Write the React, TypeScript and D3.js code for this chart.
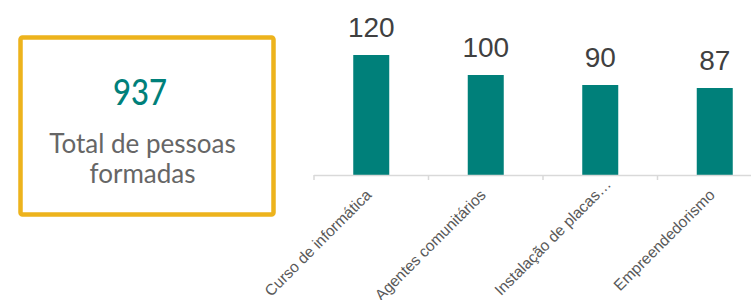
import React from "react";
import * as d3 from "d3";

const categories = ["Curso de informática", "Agentes comunitários", "Instalação de placas…", "Empreendedorismo"];
const values = [120, 100, 90, 87];
const totalValue = "937";
const totalLabelLines = ["Total de pessoas", "formadas"];

const W = 751;
const H = 300;

export default function App() {
  const x = d3.scaleBand<string>().domain(categories).range([314, 772]).paddingInner(0).paddingOuter(0);
  const y = d3.scaleLinear().domain([0, 120]).range([175, 55]);
  const barW = 36;
  const teal = "#00807A";
  return (
    <svg width={W} height={H} style={{ position: "absolute", left: 0, top: 0 }}>
      <rect x={20.5} y={37.5} width={253} height={177} rx={2} fill="#fff" stroke="#EDB31C" strokeWidth={4.5} />
      <text x={140} y={105} textAnchor="middle" fontFamily="Lato, 'Noto Sans', sans-serif" fontSize={36} fontWeight={500} fill={teal} textLength={54} lengthAdjust="spacingAndGlyphs">{totalValue}</text>
      {totalLabelLines.map((t, i) => (
        <text key={i} x={142.5} y={153 + i * 30} textAnchor="middle" fontFamily="Lato, 'Noto Sans', sans-serif" fontSize={26} fill="#666666">{t}</text>
      ))}
      {categories.map((c, i) => {
        const cx = (x(c) as number) + x.bandwidth() / 2;
        const truncated = c.endsWith("…");
        return (
          <g key={c}>
            <rect x={cx - barW / 2} y={y(values[i])} width={barW} height={175 - y(values[i])} fill={teal} />
            <text x={cx} y={y(values[i]) - 18} textAnchor="middle" fontFamily="Arial, 'Liberation Sans', sans-serif" fontSize={28} fill="#404040">{values[i]}</text>
            <text transform={`translate(${cx + 1},${196}) rotate(-45)`} dx={truncated ? 15 : 0} textAnchor="end" fontFamily="Arial, 'Liberation Sans', sans-serif" fontSize={15.5} fill="#595959">{c}</text>
          </g>
        );
      })}
      <line x1={314} x2={W} y1={175.5} y2={175.5} stroke="#D9D9D9" strokeWidth={1.5} />
      {categories.concat(["_end"]).map((c, i) => {
        const tx = 314 + i * x.bandwidth();
        return <line key={i} x1={tx} x2={tx} y1={175} y2={180} stroke="#D9D9D9" strokeWidth={1.5} />;
      })}
    </svg>
  );
}
